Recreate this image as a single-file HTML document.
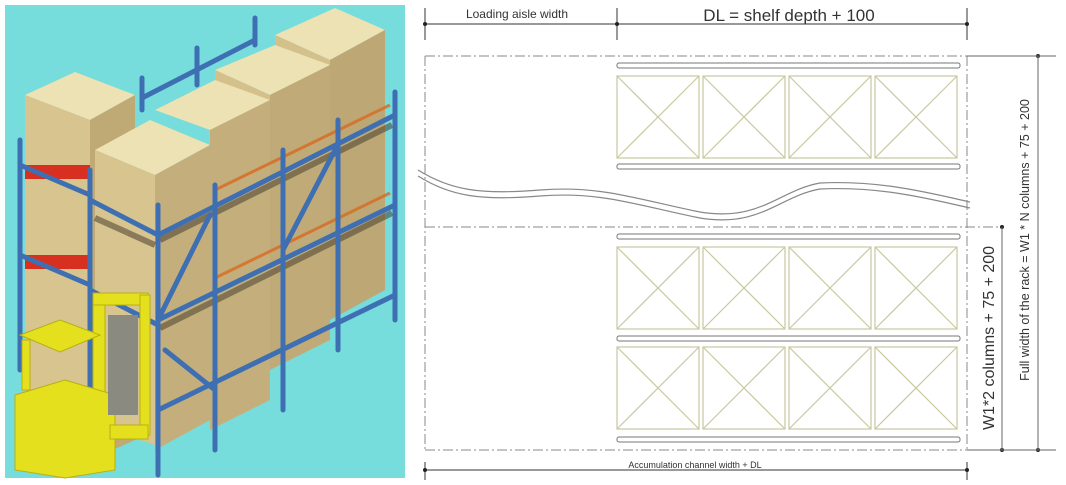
<!DOCTYPE html>
<html><head><meta charset="utf-8"><style>
html,body{margin:0;padding:0;background:#fff;width:1066px;height:485px;overflow:hidden}
svg{position:absolute;left:0;top:0}
</style></head><body>
<svg width="1066" height="485" viewBox="0 0 1066 485" xmlns="http://www.w3.org/2000/svg">
<!-- left illustration -->
<rect x="5" y="5" width="400" height="473" fill="#76dcdc"/>
<g stroke="none">
 <!-- box5 -->
 <polygon points="275,35 335,8 385,30 330,60" fill="#ece2b4"/>
 <polygon points="275,35 330,60 330,330 275,350" fill="#d4c08a"/>
 <polygon points="330,60 385,30 385,290 330,320" fill="#bca775"/>
 <!-- box4 -->
 <polygon points="215,70 275,45 330,65 270,95" fill="#ece2b4"/>
 <polygon points="215,70 270,95 270,380 215,400" fill="#d4c08a"/>
 <polygon points="270,95 330,65 330,340 270,370" fill="#c0ab78"/>
 <!-- box3 -->
 <polygon points="155,110 215,80 270,100 210,130" fill="#ece2b4"/>
 <polygon points="210,130 270,100 270,400 210,430" fill="#c4af7c"/>
 <!-- box1 -->
 <polygon points="25,95 75,72 135,95 90,120" fill="#ece2b4"/>
 <polygon points="25,95 90,120 90,455 25,440" fill="#d8c48e"/>
 <polygon points="90,120 135,95 135,440 90,460" fill="#bfa974"/>
 <rect x="25" y="165" width="65" height="14" fill="#d83020"/>
 <rect x="25" y="255" width="65" height="14" fill="#d83020"/>
 <!-- box2 -->
 <polygon points="95,150 150,120 210,145 155,175" fill="#ece2b4"/>
 <polygon points="95,150 155,175 155,445 95,425" fill="#d8c48e"/>
 <polygon points="155,175 210,145 210,420 155,450" fill="#c4af7c"/>
</g>
<g stroke="#4a4030" stroke-width="6" opacity="0.55" fill="none">
 <line x1="160" y1="240" x2="392" y2="125"/>
 <line x1="160" y1="328" x2="392" y2="213"/>
 <line x1="95" y1="218" x2="155" y2="245"/>
</g>
<g stroke="#d86a20" stroke-width="3" opacity="0.8" fill="none">
 <line x1="215" y1="190" x2="390" y2="105"/>
 <line x1="215" y1="278" x2="390" y2="193"/>
</g>
<g stroke="#3f6fb3" stroke-width="5" stroke-linecap="round" fill="none">
 <line x1="20" y1="140" x2="20" y2="370"/>
 <line x1="90" y1="170" x2="90" y2="430"/>
 <line x1="158" y1="205" x2="158" y2="475"/>
 <line x1="215" y1="185" x2="215" y2="450"/>
 <line x1="283" y1="150" x2="283" y2="410"/>
 <line x1="338" y1="120" x2="338" y2="350"/>
 <line x1="395" y1="92" x2="395" y2="320"/>
 <line x1="142" y1="78" x2="142" y2="110"/>
 <line x1="197" y1="48" x2="197" y2="85"/>
 <line x1="255" y1="18" x2="255" y2="45"/>
 <line x1="142" y1="98" x2="255" y2="40"/>
 <line x1="20" y1="165" x2="90" y2="195"/>
 <line x1="20" y1="255" x2="90" y2="285"/>
 <line x1="90" y1="200" x2="158" y2="235"/>
 <line x1="90" y1="290" x2="158" y2="325"/>
 <line x1="158" y1="235" x2="395" y2="115"/>
 <line x1="158" y1="320" x2="395" y2="205"/>
 <line x1="158" y1="410" x2="395" y2="295"/>
 <line x1="158" y1="320" x2="210" y2="215"/>
 <line x1="283" y1="250" x2="335" y2="150"/>
 <line x1="165" y1="350" x2="215" y2="390"/>
</g>
<!-- forklift -->
<g fill="#e4e01e" stroke="#b8b010" stroke-width="1">
 <rect x="93" y="295" width="12" height="140"/>
 <rect x="93" y="293" width="55" height="12"/>
 <rect x="140" y="295" width="10" height="140"/>
 <polygon points="20,335 60,320 100,335 60,352"/>
 <rect x="22" y="340" width="8" height="50"/>
 <polygon points="15,395 65,380 115,395 115,470 65,478 15,470"/>
 <rect x="110" y="425" width="38" height="14"/>
</g>
<rect x="108" y="315" width="30" height="100" fill="#8a8a80"/>
<!-- right diagram -->
<g stroke="#333" stroke-width="1" fill="none">
 <line x1="425" y1="24" x2="967" y2="24"/>
 <line x1="425" y1="8" x2="425" y2="40"/>
 <line x1="617" y1="8" x2="617" y2="40"/>
 <line x1="967" y1="8" x2="967" y2="40"/>
 <line x1="425" y1="470" x2="967" y2="470"/>
 <line x1="425" y1="462" x2="425" y2="480"/>
 <line x1="967" y1="462" x2="967" y2="480"/>
</g>
<g fill="#222"><circle cx="425" cy="24" r="2"/><circle cx="617" cy="24" r="2"/><circle cx="967" cy="24" r="2"/><circle cx="425" cy="470" r="2"/><circle cx="967" cy="470" r="2"/>
<circle cx="1038" cy="56" r="2"/><circle cx="1038" cy="450" r="2"/><circle cx="1002" cy="227" r="2"/><circle cx="1002" cy="450" r="2"/></g>
<g stroke="#888" stroke-width="1" fill="none" stroke-dasharray="10,3,2,3">
 <line x1="425" y1="56" x2="967" y2="56"/>
 <line x1="425" y1="227" x2="1000" y2="227"/>
 <line x1="425" y1="450" x2="967" y2="450"/>
 <line x1="425" y1="56" x2="425" y2="450"/>
 <line x1="967" y1="56" x2="967" y2="450"/>
</g>
<g stroke="#666" stroke-width="1" fill="none">
 <line x1="967" y1="56" x2="1056" y2="56"/>
 <line x1="967" y1="450" x2="1056" y2="450"/>
 <line x1="1038" y1="56" x2="1038" y2="450"/>
 <line x1="1002" y1="227" x2="1002" y2="450"/>
</g>
<g stroke="#777" stroke-width="1" fill="#fff">
 <rect x="617" y="63" width="343" height="5" rx="2"/>
 <rect x="617" y="164" width="343" height="5" rx="2"/>
 <rect x="617" y="234" width="343" height="5" rx="2"/>
 <rect x="617" y="336" width="343" height="5" rx="2"/>
 <rect x="617" y="437" width="343" height="5" rx="2"/>
</g>
<g stroke="#c8c8a0" stroke-width="1.2" fill="none">
 <g id="row">
  <rect x="617" y="76" width="82" height="82"/><path d="M617 76L699 158M699 76L617 158"/>
  <rect x="703" y="76" width="82" height="82"/><path d="M703 76L785 158M785 76L703 158"/>
  <rect x="789" y="76" width="82" height="82"/><path d="M789 76L871 158M871 76L789 158"/>
  <rect x="875" y="76" width="82" height="82"/><path d="M875 76L957 158M957 76L875 158"/>
 </g>
 <use href="#row" y="171"/>
 <use href="#row" y="271"/>
</g>
<g stroke="#888" stroke-width="1.2" fill="none">
 <path d="M418 170 C450 190 480 195 540 190 C600 185 640 200 700 212 C760 222 780 190 820 183 C880 180 930 193 970 202"/>
 <path d="M418 176 C450 196 480 201 540 196 C600 191 640 206 700 218 C760 228 780 196 820 189 C880 186 930 199 970 208"/>
</g>
<g font-family="Liberation Sans, sans-serif" fill="#333">
 <text x="517" y="18" font-size="12" text-anchor="middle">Loading aisle width</text>
 <text x="789" y="21" font-size="17" text-anchor="middle">DL = shelf depth + 100</text>
 <text x="695" y="468" font-size="9" text-anchor="middle">Accumulation channel width + DL</text>
 <text transform="translate(994,338) rotate(-90)" font-size="16" text-anchor="middle">W1*2 columns + 75 + 200</text>
 <text transform="translate(1029,240) rotate(-90)" font-size="12.5" text-anchor="middle">Full width of the rack = W1 * N columns + 75 + 200</text>
</g>
</svg>
</body></html>
